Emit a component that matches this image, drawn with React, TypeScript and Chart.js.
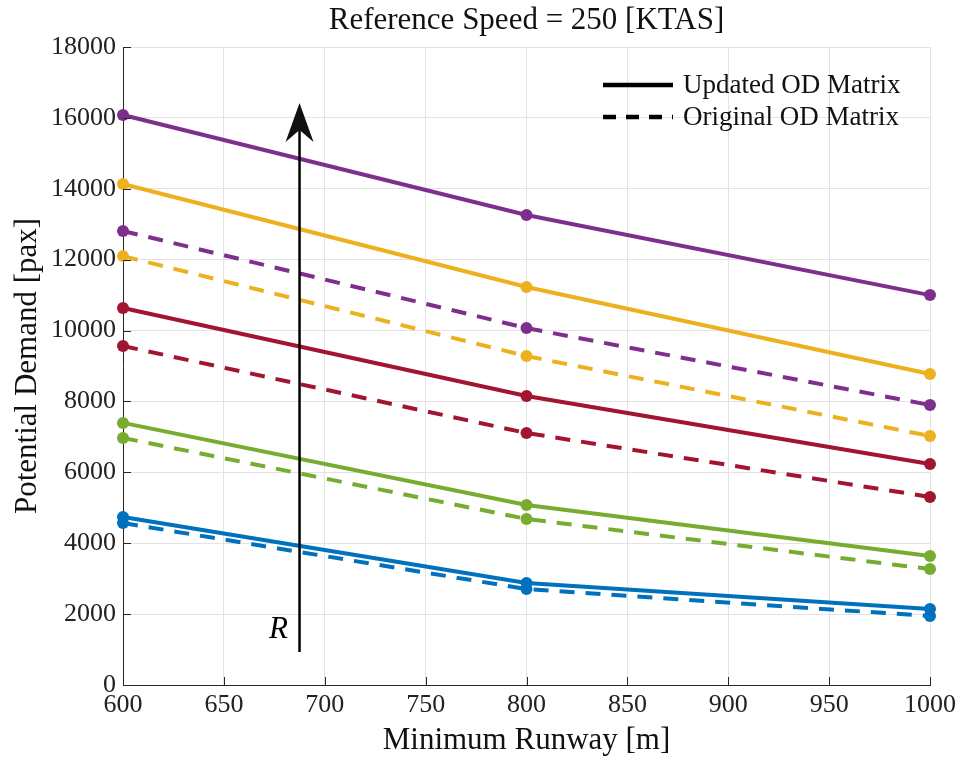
import React, { useEffect, useRef } from "react";
import { Chart, registerables } from "chart.js";

Chart.register(...registerables);

const xValues = [600, 800, 1000];
const purpleUpdated = [16080, 13260, 11000];
const yellowUpdated = [14135, 11230, 8775];
const purpleOriginal = [12810, 10070, 7900];
const yellowOriginal = [12100, 9280, 7025];
const redUpdated = [10635, 8155, 6235];
const redOriginal = [9565, 7110, 5305];
const greenUpdated = [7395, 5080, 3640];
const greenOriginal = [6970, 4685, 3270];
const blueUpdated = [4740, 2875, 2145];
const blueOriginal = [4570, 2705, 1945];

const xTicks = [600, 650, 700, 750, 800, 850, 900, 950, 1000];
const yTicks = [0, 2000, 4000, 6000, 8000, 10000, 12000, 14000, 16000, 18000];

const titleText = "Reference Speed = 250 [KTAS]";
const xTitle = "Minimum Runway [m]";
const yTitle = "Potential Demand [pax]";
const legendLabels = ["Updated OD Matrix", "Original OD Matrix"];
const arrowX = 687.5;
const arrowY = [930, 16420];
const arrowLabel = "R";
const arrowLabelPos = [677, 1550];

const BLUE = "#0072BD";
const YELLOW = "#EDB120";
const PURPLE = "#7E2F8E";
const GREEN = "#77AC30";
const RED = "#A2142F";
const FONT = "'Liberation Serif', 'DejaVu Serif', serif";
const DASH = [15, 11];

function mk(label: string, values: number[], color: string, dashed: boolean) {
  return {
    label,
    data: values.map((v, i) => ({ x: xValues[i], y: v })),
    borderColor: color,
    backgroundColor: color,
    pointBackgroundColor: color,
    pointBorderColor: color,
    borderWidth: 4,
    pointRadius: 6,
    pointBorderWidth: 0,
    borderDash: dashed ? DASH : [],
    tension: 0,
    fill: false,
    clip: false,
  };
}

const decorPlugin = {
  id: "decor",
  afterDatasetsDraw(chart: any) {
    const { ctx, chartArea: a, scales } = chart;
    const xs = scales.x;
    const ys = scales.y;
    ctx.save();
    // inward ticks
    ctx.strokeStyle = "#262626";
    ctx.lineWidth = 1;
    yTicks.forEach((t) => {
      const y = Math.round(ys.getPixelForValue(t)) + 0.5;
      ctx.beginPath();
      ctx.moveTo(a.left, y);
      ctx.lineTo(a.left + 8, y);
      ctx.stroke();
    });
    xTicks.forEach((t) => {
      const x = Math.round(xs.getPixelForValue(t)) + 0.5;
      ctx.beginPath();
      ctx.moveTo(x, a.bottom);
      ctx.lineTo(x, a.bottom - 8);
      ctx.stroke();
    });
    // arrow
    const ax = xs.getPixelForValue(arrowX);
    const ay0 = ys.getPixelForValue(arrowY[0]);
    const ay1 = ys.getPixelForValue(arrowY[1]);
    ctx.strokeStyle = "#000";
    ctx.lineWidth = 2.5;
    ctx.beginPath();
    ctx.moveTo(ax, ay0);
    ctx.lineTo(ax, ay1 + 20);
    ctx.stroke();
    ctx.fillStyle = "#111";
    ctx.beginPath();
    ctx.moveTo(ax, ay1);
    ctx.lineTo(ax + 14, ay1 + 39);
    ctx.lineTo(ax, ay1 + 27);
    ctx.lineTo(ax - 14, ay1 + 39);
    ctx.closePath();
    ctx.fill();
    ctx.fillStyle = "#000";
    ctx.font = `italic 31px ${FONT}`;
    ctx.textAlign = "center";
    ctx.textBaseline = "middle";
    ctx.fillText(arrowLabel, xs.getPixelForValue(arrowLabelPos[0]), ys.getPixelForValue(arrowLabelPos[1]));
    // legend
    ctx.font = `27px ${FONT}`;
    ctx.textAlign = "left";
    ctx.fillStyle = "#111";
    const lx0 = 603, lx1 = 673, tx = 683;
    const rows = [85, 117];
    rows.forEach((ry, i) => {
      ctx.strokeStyle = "#000";
      ctx.lineWidth = 4.5;
      ctx.setLineDash(i === 0 ? [] : [13, 10]);
      ctx.beginPath();
      ctx.moveTo(lx0, ry);
      ctx.lineTo(lx1, ry);
      ctx.stroke();
      ctx.setLineDash([]);
      ctx.fillText(legendLabels[i], tx, ry + 1);
    });
    // titles
    ctx.fillStyle = "#111";
    ctx.textAlign = "center";
    ctx.font = `31px ${FONT}`;
    ctx.fillText(titleText, (a.left + a.right) / 2, 21);
    ctx.fillText(xTitle, (a.left + a.right) / 2, 741);
    ctx.translate(28, (a.top + a.bottom) / 2);
    ctx.rotate(-Math.PI / 2);
    ctx.fillText(yTitle, 0, 0);
    ctx.restore();
  },
};

export default function App() {
  const ref = useRef<HTMLCanvasElement | null>(null);
  useEffect(() => {
    if (!ref.current) return;
    const chart = new Chart(ref.current, {
      type: "line",
      data: {
        datasets: [
          mk("Blue Original", blueOriginal, BLUE, true),
          mk("Blue Updated", blueUpdated, BLUE, false),
          mk("Green Original", greenOriginal, GREEN, true),
          mk("Green Updated", greenUpdated, GREEN, false),
          mk("Red Original", redOriginal, RED, true),
          mk("Red Updated", redUpdated, RED, false),
          mk("Yellow Original", yellowOriginal, YELLOW, true),
          mk("Yellow Updated", yellowUpdated, YELLOW, false),
          mk("Purple Original", purpleOriginal, PURPLE, true),
          mk("Purple Updated", purpleUpdated, PURPLE, false),
        ] as any,
      },
      options: {
        animation: false,
        responsive: true,
        maintainAspectRatio: false,
        layout: { padding: { top: 47, right: 31, left: 0, bottom: 0 } },
        plugins: { legend: { display: false }, title: { display: false }, tooltip: { enabled: false } },
        scales: {
          x: {
            type: "linear",
            min: 600,
            max: 1000,
            afterBuildTicks: (s: any) => { s.ticks = xTicks.map((v) => ({ value: v })); },
            afterFit: (s: any) => { s.height = 73; },
            grid: { color: "#e3e3e3", lineWidth: 1, drawTicks: false },
            border: { color: "#262626", width: 1 },
            ticks: { color: "#222", font: { family: FONT, size: 26 }, padding: 5, maxRotation: 0, callback: (v: any) => String(v) },
          },
          y: {
            type: "linear",
            min: 0,
            max: 18000,
            afterBuildTicks: (s: any) => { s.ticks = yTicks.map((v) => ({ value: v })); },
            afterFit: (s: any) => { s.width = 123; },
            grid: { color: "#e3e3e3", lineWidth: 1, drawTicks: false },
            border: { color: "#262626", width: 1 },
            ticks: { color: "#222", font: { family: FONT, size: 26 }, padding: 7, callback: (v: any) => String(v) },
          },
        },
      } as any,
      plugins: [decorPlugin],
    });
    return () => chart.destroy();
  }, []);
  return (
    <div style={{ position: "fixed", left: 0, top: 0, width: 961, height: 758, background: "#fff" }}>
      <canvas ref={ref} />
    </div>
  );
}
